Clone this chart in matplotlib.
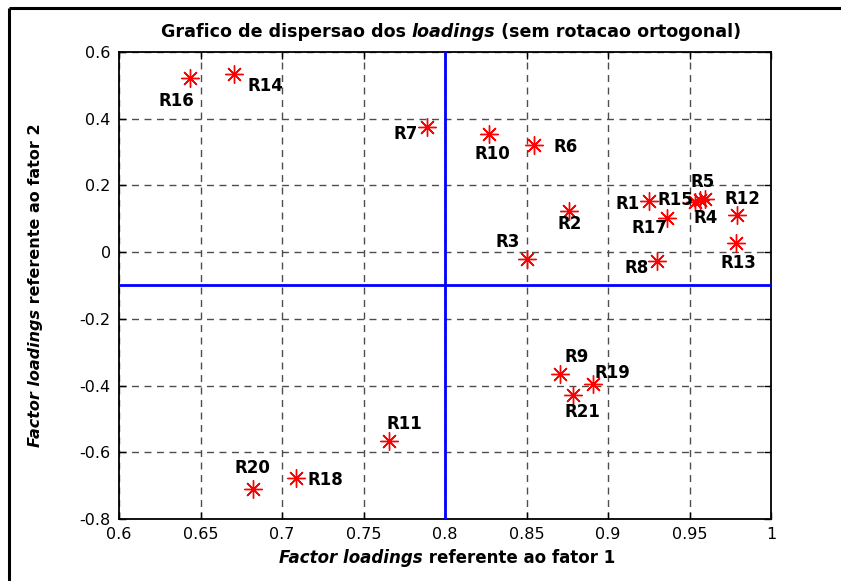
import matplotlib.pyplot as plt
from matplotlib.lines import Line2D

# factor loadings
labels = ["R1", "R2", "R3", "R4", "R5", "R6", "R7", "R8", "R9", "R10", "R11",
          "R12", "R13", "R14", "R15", "R16", "R17", "R18", "R19", "R20", "R21"]
factor1 = [0.9252, 0.8763, 0.8505, 0.9564, 0.9595, 0.8546, 0.7890, 0.9300,
           0.8706, 0.8270, 0.7658, 0.9789, 0.9785, 0.6706, 0.9534, 0.6436,
           0.9364, 0.7086, 0.8906, 0.6824, 0.8787]
factor2 = [0.154, 0.1245, -0.020, 0.156, 0.160, 0.321, 0.375, -0.027,
           -0.366, 0.354, -0.567, 0.1125, 0.027, 0.533, 0.149, 0.521,
           0.102, -0.676, -0.395, -0.711, -0.428]

# label offsets from each point, in pixels (right, down)
label_offsets = [(-21, 3), (0, 13), (-20, -17), (6, 18), (-2, -17), (32, 2),
                 (-21, 7), (-20, 7), (17, -17), (3, 20), (15, -17), (6, -16),
                 (2, 20), (31, 12), (-20, -2), (-14, 23), (-18, 10), (29, 2),
                 (20, -11), (-1, -21), (9, 17)]

x_ticks = [0.6, 0.65, 0.7, 0.75, 0.8, 0.85, 0.9, 0.95, 1.0]
x_ticklabels = ["0.6", "0.65", "0.7", "0.75", "0.8", "0.85", "0.9", "0.95", "1"]
y_ticks = [-0.8, -0.6, -0.4, -0.2, 0.0, 0.2, 0.4, 0.6]
y_ticklabels = ["-0.8", "-0.6", "-0.4", "-0.2", "0", "0.2", "0.4", "0.6"]

W, H = 841, 581
plt.rcParams["font.family"] = "DejaVu Sans"
fig = plt.figure(figsize=(W / 100, H / 100), dpi=100)
ax = fig.add_axes([119 / W, 1 - 519 / H, (771 - 119) / W, (519 - 52) / H])

ax.set_xlim(0.6, 1.0)
ax.set_ylim(-0.8, 0.6)
ax.set_xticks(x_ticks)
ax.set_xticklabels(x_ticklabels)
ax.set_yticks(y_ticks)
ax.set_yticklabels(y_ticklabels)
ax.tick_params(direction="in", top=True, right=True, length=5, width=1,
               labelsize=11.5, pad=6)
ax.grid(True, color="0.3", linestyle=(0, (5, 4)), linewidth=1)
for s in ax.spines.values():
    s.set_linewidth(1.3)

ax.axvline(0.8, color="#0000ff", linewidth=2, zorder=3)
ax.axhline(-0.1, color="#0000ff", linewidth=2, zorder=3)

ax.plot(factor1, factor2, linestyle="none", marker=(8, 2, 0), markersize=13,
        markeredgecolor="red", markeredgewidth=1, zorder=4)

for lab, x, y, (dx, dy) in zip(labels, factor1, factor2, label_offsets):
    ax.annotate(lab, (x, y), xytext=(dx * 0.72, -dy * 0.72),
                textcoords="offset points", ha="center", va="center",
                fontsize=12, fontweight="bold", zorder=5)


def rich_text(cx, cy, parts, rotation=0, size=11.5):
    # place a run of differently styled pieces, centred on (cx, cy) in pixels
    r = fig.canvas.get_renderer()
    texts = []
    for s, style in parts:
        t = fig.text(0, 0, s, fontsize=size, fontweight="bold", fontstyle=style,
                     rotation=rotation, rotation_mode="anchor",
                     ha="left", va="baseline")
        texts.append(t)
    sizes = []
    for t in texts:
        bb = t.get_window_extent(r)
        sizes.append(bb.height if rotation else bb.width)
    pos = -sum(sizes) / 2
    for t, w in zip(texts, sizes):
        if rotation:
            t.set_position((cx / W, 1 - (cy - pos) / H))
        else:
            t.set_position(((cx + pos) / W, 1 - cy / H))
        pos += w


rich_text(451, 37, [("Grafico de dispersao dos ", "normal"),
                    ("loadings", "italic"),
                    (" (sem rotacao ortogonal)", "normal")], size=12.6)
rich_text(447, 563, [("Factor loadings", "italic"),
                     (" referente ao fator 1", "normal")], size=12)
rich_text(40, 285, [("Factor loadings", "italic"),
                    (" referente ao fator 2", "normal")], rotation=90)

# frame on the top and left of the picture
fig.add_artist(Line2D([8.5 / W, 1], [1 - 7.5 / H, 1 - 7.5 / H], color="black",
                      linewidth=2.2, solid_capstyle="butt",
                      transform=fig.transFigure))
fig.add_artist(Line2D([8.5 / W, 8.5 / W], [0, 1 - 7.5 / H], color="black",
                      linewidth=2.2, solid_capstyle="butt",
                      transform=fig.transFigure))

fig.savefig("out.png", dpi=100)
